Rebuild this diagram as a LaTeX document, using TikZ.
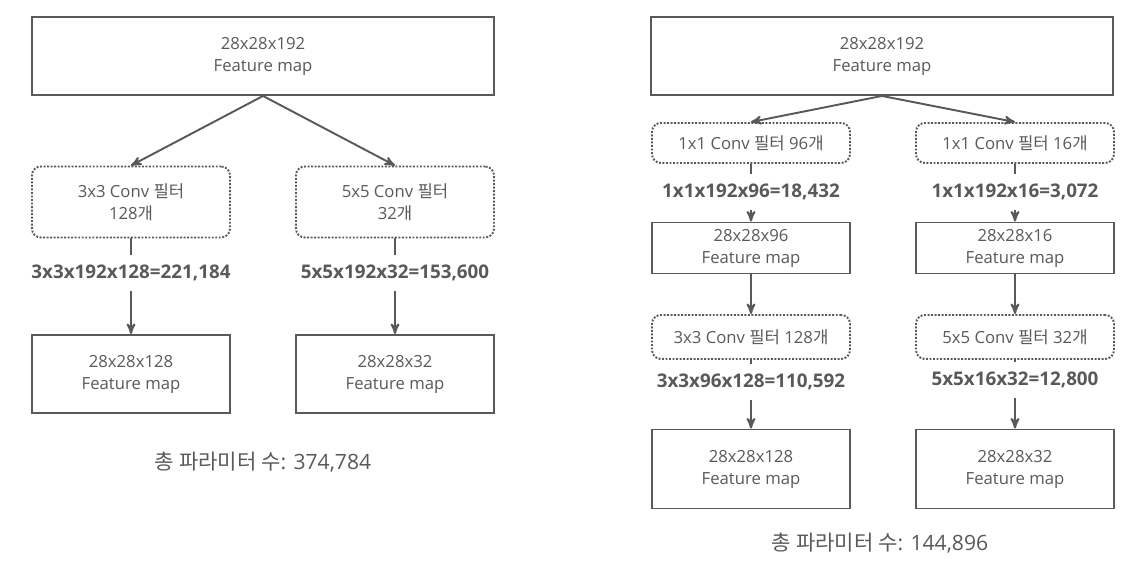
\documentclass[tikz,border=0pt]{standalone}
\usepackage{fontspec}
\setmainfont{Open Sans}
\newfontfamily\kr{Noto Sans CJK KR}
\usetikzlibrary{arrows}
\definecolor{ink}{HTML}{595959}

\begin{document}
\begin{tikzpicture}[x=0.02cm,y=-0.02cm,
    every node/.style={text=ink,font={\fontsize{9.5}{12.5}\selectfont}},
    fmap/.style={draw=ink,line width=1.1pt,align=center,minimum width=3.96cm},
    conv/.style={draw=ink,line width=1.1pt,dash pattern=on 1.1pt off 0.9pt,
        rounded corners=5pt,align=center,minimum width=3.96cm},
    calc/.style={font={\bfseries\fontsize{10.7}{12}\selectfont},inner ysep=0.2cm},
    total/.style={font={\fontsize{12}{14}\selectfont}},
    link/.style={draw=ink,line width=1.1pt,->,>=stealth'}]
\useasboundingbox (0,0) rectangle (1137,573);

% without 1x1 reduction
\node[fmap,minimum width=9.24cm,minimum height=1.56cm] (in1) at (263,56) {28x28x192\\Feature map};
\node[conv,minimum height=1.42cm] (c1) at (131,202) {3x3 Conv {\kr 필터}\\128{\kr 개}};
\node[conv,minimum height=1.42cm] (c2) at (395,202) {5x5 Conv {\kr 필터}\\32{\kr 개}};
\node[calc] (p1) at (131,273) {3x3x192x128=221,184};
\node[calc] (p2) at (395,273) {5x5x192x32=153,600};
\node[fmap,minimum height=1.56cm] (o1) at (131,374) {28x28x128\\Feature map};
\node[fmap,minimum height=1.56cm] (o2) at (395,374) {28x28x32\\Feature map};
\node[total] (sum1) at (263,462) {{\kr 총 파라미터 수}: 374,784};

\draw[link] (in1.south)--(c1.north);
\draw[link] (in1.south)--(c2.north);
\draw[draw=ink,line width=1.1pt] (c1)--(p1) (c2)--(p2);
\draw[link] (p1)--(o1);
\draw[link] (p2)--(o2);

% with 1x1 reduction
\node[fmap,minimum width=9.24cm,minimum height=1.56cm] (in2) at (882,56) {28x28x192\\Feature map};
\node[conv,minimum height=0.8cm] (a1) at (751,143) {1x1 Conv {\kr 필터} 96{\kr 개}};
\node[conv,minimum height=0.8cm] (a2) at (1015,143) {1x1 Conv {\kr 필터} 16{\kr 개}};
\node[calc] (q1) at (751,192) {1x1x192x96=18,432};
\node[calc] (q2) at (1015,192) {1x1x192x16=3,072};
\node[fmap,minimum height=1.02cm] (m1) at (751,248) {28x28x96\\Feature map};
\node[fmap,minimum height=1.02cm] (m2) at (1015,248) {28x28x16\\Feature map};
\node[conv,minimum height=0.88cm] (b1) at (751,337) {3x3 Conv {\kr 필터} 128{\kr 개}};
\node[conv,minimum height=0.88cm] (b2) at (1015,337) {5x5 Conv {\kr 필터} 32{\kr 개}};
\node[calc] (r1) at (751,382) {3x3x96x128=110,592};
\node[calc] (r2) at (1015,380) {5x5x16x32=12,800};
\node[fmap,minimum height=1.58cm] (o3) at (751,469) {28x28x128\\Feature map};
\node[fmap,minimum height=1.58cm] (o4) at (1015,469) {28x28x32\\Feature map};
\node[total] (sum2) at (880,543) {{\kr 총 파라미터 수}: 144,896};

\draw[link] (in2.south)--(a1.north);
\draw[link] (in2.south)--(a2.north);
\draw[draw=ink,line width=1.1pt] (a1)--(q1) (a2)--(q2) (b1)--(r1) (b2)--(r2);
\draw[link] (q1)--(m1);
\draw[link] (q2)--(m2);
\draw[link] (m1)--(b1);
\draw[link] (m2)--(b2);
\draw[link] (r1)--(o3);
\draw[link] (r2)--(o4);
\end{tikzpicture}
\end{document}
